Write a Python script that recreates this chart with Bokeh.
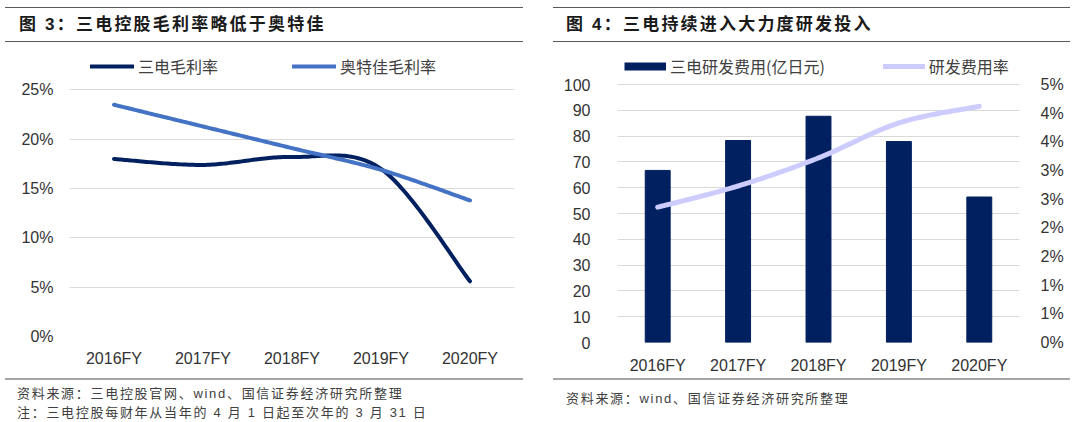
import numpy as np
from bokeh.plotting import figure
from bokeh.models import Range1d, LinearAxis, FixedTicker, Legend, LegendItem, Div, Spacer
from bokeh.layouts import row, column
from bokeh.embed import file_html
from bokeh.resources import INLINE

# ---------------- data ----------------
years = ["2016FY", "2017FY", "2018FY", "2019FY", "2020FY"]
sanden_gross_margin = [18.0, 17.4, 18.2, 17.0, 5.6]      # %
aotecar_gross_margin = [23.5, 21.3, 19.1, 16.9, 13.8]    # %
rd_expense = [66.7, 78.3, 87.7, 77.9, 56.4]              # 亿日元
rd_ratio = [2.36, 2.73, 3.22, 3.83, 4.12]                # %

gm_ticks = [0, 5, 10, 15, 20, 25]
gm_tick_labels = ["0%", "5%", "10%", "15%", "20%", "25%"]
rd_ticks = [0, 10, 20, 30, 40, 50, 60, 70, 80, 90, 100]
ratio_ticks = [0, 0.5, 1.0, 1.5, 2.0, 2.5, 3.0, 3.5, 4.0, 4.5]
ratio_tick_labels = ["0%", "1%", "1%", "2%", "2%", "3%", "3%", "4%", "4%", "5%"]

title_left = "图 3：三电控股毛利率略低于奥特佳"
title_right = "图 4：三电持续进入大力度研发投入"
legend_left = ["三电毛利率", "奥特佳毛利率"]
legend_right = ["三电研发费用(亿日元)", "研发费用率"]
note_left = ["资料来源：三电控股官网、wind、国信证券经济研究所整理",
             "注：三电控股每财年从当年的 4 月 1 日起至次年的 3 月 31 日"]
note_right = ["资料来源：wind、国信证券经济研究所整理"]

NAVY = "#002060"
BLUE = "#4472C4"
LAV = "#CCCCFF"
GRID = "#D9D9D9"
TXT = "#333333"
LATIN = "Liberation Sans"
CJK = "Noto Sans CJK SC"
FONTS = "'Liberation Sans','Noto Sans CJK SC',sans-serif"


def smooth(xs, ys, n=40):
    """Excel-like smoothed line (Catmull-Rom Bezier) through the data points."""
    pts = np.column_stack([xs, ys]).astype(float)
    ext = np.vstack([pts[0], pts, pts[-1]])
    out = []
    for i in range(len(pts) - 1):
        p0, p1 = pts[i], pts[i + 1]
        c1 = p0 + (ext[i + 2] - ext[i]) / 6.0
        c2 = p1 - (ext[i + 3] - ext[i + 1]) / 6.0
        t = np.linspace(0, 1, n)[:, None]
        seg = (1 - t) ** 3 * p0 + 3 * (1 - t) ** 2 * t * c1 + 3 * (1 - t) * t ** 2 * c2 + t ** 3 * p1
        out.append(seg if i == 0 else seg[1:])
    s = np.vstack(out)
    return s[:, 0], s[:, 1]


def style_axis(ax, standoff):
    ax.axis_line_color = None
    ax.major_tick_line_color = None
    ax.minor_tick_line_color = None
    ax.major_label_text_font = LATIN
    ax.major_label_text_font_size = "16px"
    ax.major_label_text_color = TXT
    ax.major_label_standoff = standoff


def header(text, w, pad):
    html = (f"<div style=\"box-sizing:border-box;width:{w}px;height:35px;"
            f"border-top:1px solid #595959;border-bottom:1px solid #595959;"
            f"padding-left:{pad}px;line-height:34px;font-family:{FONTS};font-size:17px;"
            f"font-weight:bold;letter-spacing:2.2px;color:#1a1a1a;white-space:nowrap;\">{text}</div>")
    return Div(text=html, width=w, height=35, margin=0)


def footer(lines, w, pad_top, pad_left):
    body = "<br>".join(lines)
    html = (f"<div style=\"box-sizing:border-box;width:{w}px;height:40px;overflow:visible;"
            f"border-top:2px solid #A6A6A6;padding-top:{pad_top}px;padding-left:{pad_left}px;"
            f"line-height:19px;font-family:{FONTS};font-size:13px;letter-spacing:1.7px;"
            f"color:#404040;white-space:nowrap;\">{body}</div>")
    return Div(text=html, width=w, height=40, margin=0)


def make_legend(items, loc, spacing, gw):
    return Legend(items=[LegendItem(label=l, renderers=[r]) for l, r in items],
                  orientation="horizontal", location=loc, padding=0, margin=0,
                  spacing=spacing, glyph_width=gw, glyph_height=16, label_standoff=4,
                  label_text_font=CJK, label_text_font_size="16px",
                  label_text_color="#404040", border_line_color=None,
                  background_fill_alpha=0)


xs = np.arange(len(years))

# ---------------- left chart ----------------
# frame extends above the top gridline to hold the legend (as in the Excel plot area)
p1 = figure(width=518, height=336, output_backend="svg", toolbar_location=None,
            x_range=Range1d(-0.5, len(years) - 0.5), y_range=Range1d(0, 28.8),
            min_border_left=64, min_border_right=9, min_border_top=10, min_border_bottom=42,
            title=None)
p1.outline_line_color = None
p1.xgrid.visible = False
p1.ygrid.grid_line_color = GRID
p1.ygrid.grid_line_width = 1
p1.xaxis.ticker = FixedTicker(ticks=list(xs))
p1.xaxis.major_label_overrides = {int(i): y for i, y in zip(xs, years)}
p1.yaxis.ticker = FixedTicker(ticks=gm_ticks)
p1.yaxis.major_label_overrides = dict(zip(gm_ticks, gm_tick_labels))
style_axis(p1.xaxis[0], 7)
style_axis(p1.yaxis[0], 10)

sx, sy = smooth(xs, sanden_gross_margin)
ax_, ay_ = smooth(xs, aotecar_gross_margin)
r_s = p1.line(sx, sy, line_color=NAVY, line_width=4, line_cap="round", line_join="round")
r_a = p1.line(ax_, ay_, line_color=BLUE, line_width=4, line_cap="round", line_join="round")

p1.add_layout(make_legend(list(zip(legend_left, [r_s, r_a])), (21, 258), 74, 44))

# ---------------- right chart ----------------
p2 = figure(width=517, height=336, output_backend="svg", toolbar_location=None,
            x_range=Range1d(-0.5, len(years) - 0.5), y_range=Range1d(0, 112.8),
            min_border_left=64, min_border_right=51, min_border_top=9, min_border_bottom=36,
            title=None)
p2.extra_y_ranges = {"pct": Range1d(0, 4.5 * 112.8 / 100)}
p2.outline_line_color = None
p2.xgrid.visible = False
p2.ygrid.grid_line_color = GRID
p2.ygrid.grid_line_width = 1
p2.xaxis.ticker = FixedTicker(ticks=list(xs))
p2.xaxis.major_label_overrides = {int(i): y for i, y in zip(xs, years)}
p2.yaxis.ticker = FixedTicker(ticks=rd_ticks)
style_axis(p2.xaxis[0], 8)
style_axis(p2.yaxis[0], 21)
rax = LinearAxis(y_range_name="pct", ticker=FixedTicker(ticks=ratio_ticks),
                 major_label_overrides=dict(zip(ratio_ticks, ratio_tick_labels)))
style_axis(rax, 15)
p2.add_layout(rax, "right")

r_bar = p2.vbar(x=xs, top=rd_expense, width=0.31, fill_color=NAVY, line_color=NAVY)
rx, ry = smooth(xs, rd_ratio)
r_line = p2.line(rx, ry, y_range_name="pct", line_color=LAV, line_width=5,
                 line_cap="round", line_join="round")
# legend swatch for the bars (thin bar-coloured key, drawn nowhere in the plot)
r_key = p2.line(x=xs, y=np.full(len(xs), np.nan), line_color=NAVY, line_width=8,
                line_cap="butt")

p2.add_layout(make_legend(list(zip(legend_right, [r_key, r_line])), (7, 264), 58, 42))

# ---------------- page ----------------
left_col = column(Spacer(width=518, height=7), header(title_left, 518, 14), p1,
                  footer(note_left, 518, 4, 12), spacing=0)
right_col = column(Spacer(width=517, height=7), header(title_right, 517, 13), p2,
                   footer(note_right, 517, 9, 13), spacing=0)
page = row(Spacer(width=5, height=418), left_col, Spacer(width=30, height=418), right_col,
           spacing=0)

open("out.html", "w").write(file_html(page, INLINE))
